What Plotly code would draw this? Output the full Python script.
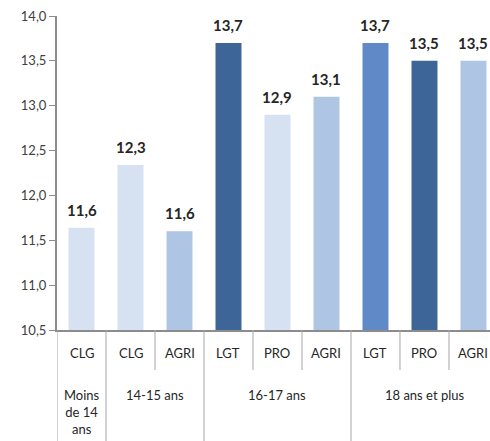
import plotly.graph_objects as go

# Data
group_labels = ["Moins<br>de 14<br>ans", "14-15 ans", "16-17 ans", "18 ans et plus"]
group_sizes = [1, 2, 3, 3]
sub_labels = ["CLG", "CLG", "AGRI", "LGT", "PRO", "AGRI", "LGT", "PRO", "AGRI"]
values = [11.64, 12.34, 11.60, 13.70, 12.90, 13.10, 13.70, 13.50, 13.50]
value_labels = ["11,6", "12,3", "11,6", "13,7", "12,9", "13,1", "13,7", "13,5", "13,5"]
bar_colors = ["#D6E1F1", "#D6E1F1", "#AFC5E4", "#3E6598", "#D6E1F1", "#AFC5E4",
              "#608AC7", "#3E6598", "#AFC5E4"]
y_ticks = [10.5, 11.0, 11.5, 12.0, 12.5, 13.0, 13.5, 14.0]

xpos = list(range(len(values)))
FONT = "Lato"

fig = go.Figure()
fig.add_trace(go.Bar(
    x=xpos, y=values, marker=dict(color=bar_colors, line=dict(width=0)),
    width=0.53, hoverinfo="skip", showlegend=False,
))

annotations = []
# data labels
for x, v, t in zip(xpos, values, value_labels):
    annotations.append(dict(x=x, y=v, xref="x", yref="y", text="<b>" + t + "</b>",
                            showarrow=False, yanchor="bottom", yshift=7,
                            font=dict(family=FONT, size=15, color="#262626")))
# sub-category labels
for x, t in zip(xpos, sub_labels):
    annotations.append(dict(x=x, y=-0.0732, xref="x", yref="paper", text=t,
                            showarrow=False, yanchor="middle",
                            font=dict(family=FONT, size=13, color="#262626")))
# group labels
start = 0
group_bounds = [0]
for g, n in zip(group_labels, group_sizes):
    center = start + (n - 1) / 2
    annotations.append(dict(x=center, y=-0.176, xref="x", yref="paper", text=g,
                            showarrow=False, yanchor="top", align="center",
                            font=dict(family=FONT, size=13, color="#262626")))
    start += n
    group_bounds.append(start)

shapes = []
for k in range(len(values) + 1):
    x = k - 0.5
    y1 = -0.36 if k in group_bounds else -0.1274
    shapes.append(dict(type="line", xref="x", yref="paper", x0=x, x1=x, y0=0, y1=y1,
                       line=dict(color="#A6A6A6", width=1)))

fig.update_layout(
    width=490, height=441,
    margin=dict(l=57, r=0, t=16, b=111),
    paper_bgcolor="white", plot_bgcolor="white",
    separators=", ",
    xaxis=dict(range=[-0.5, 8.337], showticklabels=False, showgrid=False, zeroline=False,
               showline=True, linecolor="#8C8C8C", linewidth=2, ticks=""),
    yaxis=dict(range=[10.5, 14.0], tickvals=y_ticks, tickformat=".1f", showgrid=False,
               zeroline=False, showline=True, linecolor="#8C8C8C", linewidth=2,
               ticks="outside", ticklen=6, tickcolor="#8C8C8C", tickwidth=1,
               tickfont=dict(family=FONT, size=13, color="#404040")),
    annotations=annotations,
    shapes=shapes,
)

fig.write_html("out.html", config={"displayModeBar": False},
               post_script="document.body.style.margin='0';document.body.style.overflow='hidden';")
